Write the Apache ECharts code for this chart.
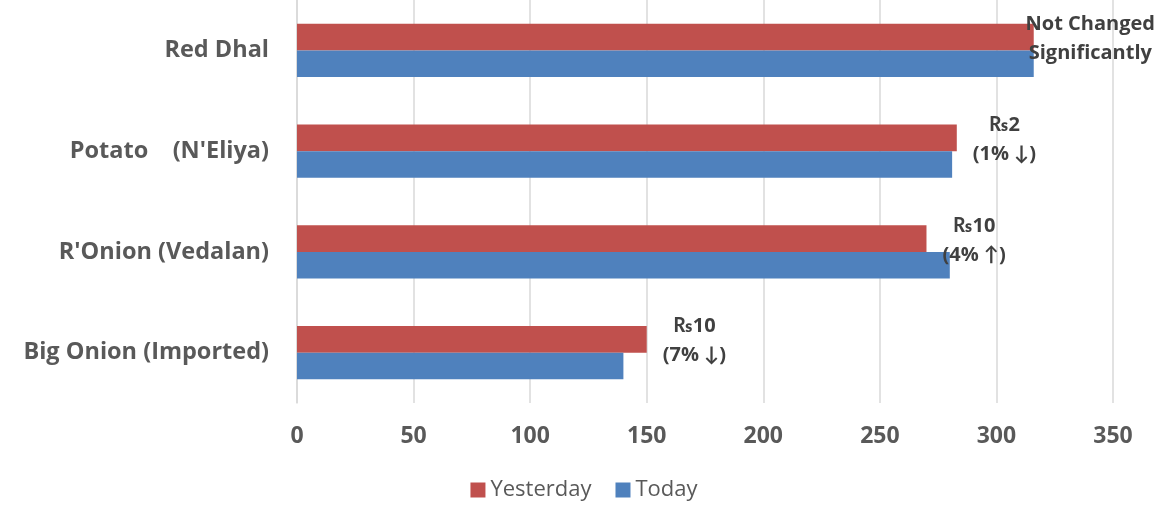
<!DOCTYPE html>
<html><head><meta charset="utf-8">
<script src="https://cdn.jsdelivr.net/npm/echarts@6/dist/echarts.min.js"></script>
<style>html,body{margin:0;padding:0;background:#fff}#c{width:1168px;height:512px}</style>
</head><body><div id="c"></div>
<script>
const categories = ['Big Onion (Imported)', "R'Onion (Vedalan)", "Potato    (N'Eliya)", 'Red Dhal'];
const yesterday = [150, 270, 283, 316];
const today = [140, 280, 281, 316];
const notes = ['₨10\n(7% ↓)', '₨10\n(4% ↑)', '₨2\n(1% ↓)', 'Not Changed\nSignificantly'];
const xTicks = [0, 350, 50];

const FONT = '"Open Sans", Lato, sans-serif';
const labelFont = 'bold 20px ' + FONT;
const chart = echarts.init(document.getElementById('c'), null, {renderer: 'canvas'});

function makeOption(offsets) {
  return {
    animation: false,
    backgroundColor: '#fff',
    grid: {left: 297, right: 55, top: 0, bottom: 109, containLabel: false},
    legend: {
      data: ['Yesterday', 'Today'],
      bottom: 6, left: 'center',
      icon: 'rect', itemWidth: 15, itemHeight: 15, itemGap: 24, itemStyle: {borderWidth: 0},
      textStyle: {color: '#595959', fontSize: 22, fontFamily: FONT}
    },
    xAxis: {
      type: 'value', min: xTicks[0], max: xTicks[1], interval: xTicks[2],
      axisLine: {show: false}, axisTick: {show: false},
      splitLine: {lineStyle: {color: '#d9d9d9', width: 1.5}},
      axisLabel: {color: '#595959', fontSize: 23, fontWeight: 'bold', fontFamily: FONT, margin: 22}
    },
    yAxis: {
      type: 'category', data: categories,
      axisLine: {show: true, lineStyle: {color: '#d9d9d9', width: 1.5}},
      axisTick: {show: false},
      axisLabel: {color: '#595959', fontSize: 23.5, fontWeight: 'bold', fontFamily: FONT, margin: 28}
    },
    series: [
      {name: 'Yesterday', type: 'bar', data: yesterday.map((v, i) => ({
         value: v,
         label: {show: true, position: 'right', distance: 0, offset: [offsets[i], 2],
                 align: 'center', verticalAlign: 'middle',
                 formatter: notes[i], color: '#404040', fontSize: 20, fontWeight: 'bold',
                 fontFamily: FONT, lineHeight: 29}
       })), barCategoryGap: '47%', barGap: '0%',
       itemStyle: {color: '#C0504D'}},
      {name: 'Today', type: 'bar', data: today, barCategoryGap: '47%', barGap: '0%',
       itemStyle: {color: '#4F81BD'}}
    ]
  };
}

const cv = document.createElement('canvas').getContext('2d');
cv.font = labelFont;
const widths = notes.map(n => Math.max(...n.split('\n').map(l => cv.measureText(l).width)));

chart.setOption(makeOption(widths.map(w => 16 + w / 2)));
const W = chart.getWidth();
const offsets = yesterday.map((v, i) => {
  const px = chart.convertToPixel({xAxisIndex: 0}, v);
  let left = px + 16;
  if (left + widths[i] > W - 13) left = W - 13 - widths[i];
  return left - px + widths[i] / 2;
});
chart.setOption(makeOption(offsets));
</script>
</body></html>
